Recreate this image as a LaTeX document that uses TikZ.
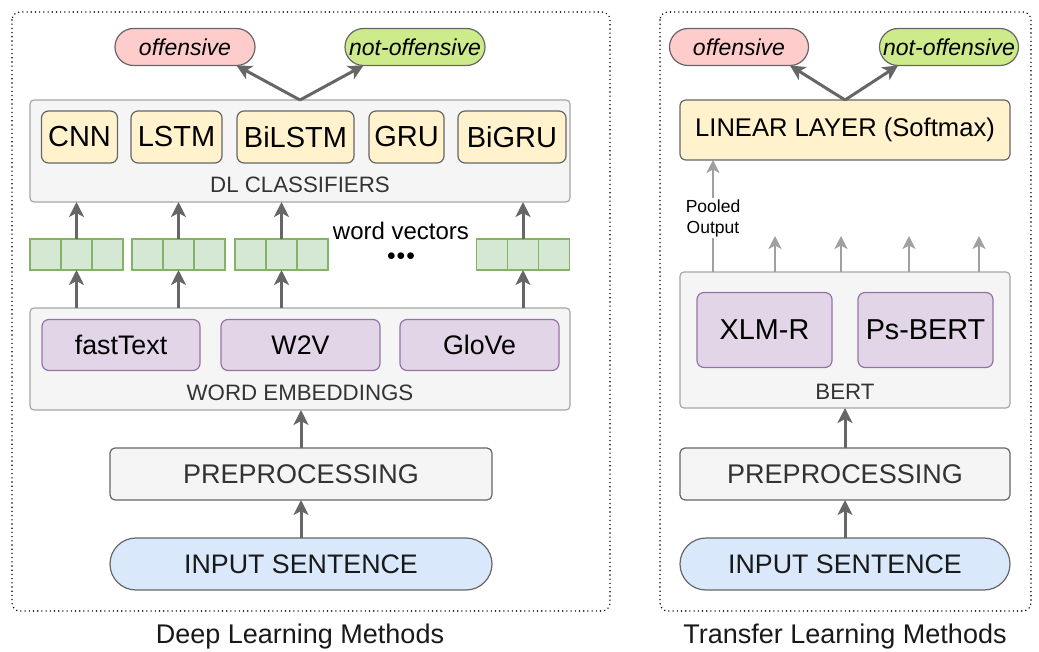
\documentclass[tikz,border=0pt]{standalone}
\usepackage{fontspec}
\setmainfont{Liberation Sans}
\usetikzlibrary{arrows.meta,shapes.misc}
\definecolor{grayfill}{HTML}{F5F5F5}
\definecolor{grayborder}{HTML}{A6A6A6}
\definecolor{darkline}{HTML}{666666}
\definecolor{lightarrow}{HTML}{A0A0A0}
\definecolor{txtgray}{HTML}{333333}
\definecolor{pinkfill}{HTML}{FFCCCC}
\definecolor{greenfill}{HTML}{CDEB8B}
\definecolor{yellowfill}{HTML}{FFF2CC}
\definecolor{purplefill}{HTML}{E1D5E7}
\definecolor{purpleline}{HTML}{9673A6}
\definecolor{vecfill}{HTML}{D5E8D4}
\definecolor{vecline}{HTML}{82B366}
\definecolor{bluefill}{HTML}{DAE8FC}
\tikzset{
  x=1pt, y=-1pt,
  every node/.style={inner sep=0pt, outer sep=0pt},
  outerbox/.style={draw=black, line width=1.6pt, dash pattern=on 0pt off 4.2pt, line cap=round, rounded corners=8pt},
  group/.style={draw=grayborder, fill=grayfill, line width=1.2pt, rounded corners=4pt},
  pill/.style={draw=darkline, line width=1.2pt, rounded rectangle, minimum width=140pt, minimum height=37pt, font=\fontsize{23}{26}\selectfont\itshape},
  clsbox/.style={draw=darkline, fill=yellowfill, line width=1.2pt, rounded corners=7pt, minimum height=52pt, font=\fontsize{29}{32}\selectfont},
  embbox/.style={draw=purpleline, fill=purplefill, line width=1.2pt, rounded corners=7pt, minimum height=51pt, font=\fontsize{26.8}{30}\selectfont},
  cell/.style={draw=vecline, fill=vecfill, line width=1.2pt, minimum width=31pt, minimum height=31pt},
  procbox/.style={draw=darkline, fill=grayfill, line width=1.2pt, rounded corners=5pt, minimum width=382pt, minimum height=52pt, font=\fontsize{27}{30}\selectfont, text=txtgray},
  inbox/.style={draw=darkline, fill=bluefill, line width=1.2pt, rounded rectangle, minimum width=382pt, minimum height=52pt, font=\fontsize{26.8}{30}\selectfont, text=black!90},
  grouplabel/.style={font=\fontsize{22.3}{26}\selectfont, text=txtgray},
  arr/.style={draw=darkline, line width=3pt, -{Stealth[length=15pt, width=15pt, inset=4pt]}},
  larr/.style={draw=lightarrow, line width=2.4pt, -{Stealth[length=13pt, width=13pt, inset=3.5pt]}},
  title/.style={font=\fontsize{27}{30}\selectfont, text=black!90}
}
\begin{document}
\begin{tikzpicture}
\useasboundingbox (0,0) rectangle (1039,652);
% outer dotted boxes
\draw[outerbox] (12,12) rectangle (610,611);
\draw[outerbox] (660,12) rectangle (1031,611);
\node[title] (t1) at (300,637) {Deep Learning Methods};
\node[title] (t2) at (845,637) {Transfer Learning Methods};

% ===== Left: Deep Learning =====
\node[pill, fill=pinkfill] (off1) at (185,47) {offensive};
\node[pill, fill=greenfill] (noff1) at (415,47) {not-offensive};

\node[group, minimum width=540pt, minimum height=102pt] (dl) at (300,151) {};
\node[grouplabel] (dllab) at (300,185) {DL CLASSIFIERS};
\node[clsbox, minimum width=76pt] (cnn) at (79.5,137) {CNN};
\node[clsbox, minimum width=91pt] (lstm) at (176.5,137) {LSTM};
\node[clsbox, minimum width=117pt] (bilstm) at (295.5,137) {BiLSTM};
\node[clsbox, minimum width=75pt] (gru) at (406.5,137) {GRU};
\node[clsbox, minimum width=108pt] (bigru) at (512,137) {BiGRU};

\coordinate (dltop) at (300,100);
\draw[arr] (dltop) -- (off1.south east);
\draw[arr] (dltop) -- (noff1.south west);

% word vectors
\foreach \g/\cx in {1/76.5, 2/178.5, 3/281.5, 4/523} {
  \node[cell] (v\g b) at (\cx,254.5) {};
  \node[cell, anchor=east] (v\g a) at (v\g b.west) {};
  \node[cell, anchor=west] (v\g c) at (v\g b.east) {};
}
\node[font=\fontsize{24}{26}\selectfont] (wv) at (401,231) {word vectors};
\node[font=\fontsize{16}{20}\selectfont] (dots) at (401,257) {$\bullet\!\bullet\!\bullet$};

\node[group, minimum width=540pt, minimum height=102pt] (emb) at (300,359) {};
\node[grouplabel] (emblab) at (300,393) {WORD EMBEDDINGS};
\node[embbox, minimum width=158pt] (ft) at (121,345) {fastText};
\node[embbox, minimum width=159pt] (w2v) at (300.5,345) {W2V};
\node[embbox, minimum width=159pt] (glove) at (479.5,345) {GloVe};

\foreach \g in {1,2,3,4} {
  \draw[arr] (v\g b.north) -- (v\g b.north |- dl.south);
  \draw[arr] (v\g b.north |- emb.north) -- (v\g b.south);
}

\node[procbox] (pre1) at (301,474) {PREPROCESSING};
\node[inbox] (in1) at (301,564) {INPUT SENTENCE};
\draw[arr] (pre1.north) -- (pre1.north |- emb.south);
\draw[arr] (in1.north) -- (pre1.south);

% ===== Right: Transfer Learning =====
\node[pill, fill=pinkfill, minimum width=139pt] (off2) at (739,47) {offensive};
\node[pill, fill=greenfill, minimum width=139pt] (noff2) at (949,47) {not-offensive};

\node[clsbox, minimum width=330pt, minimum height=60pt, rounded corners=6pt, font=\fontsize{25.6}{28}\selectfont] (lin) at (845,130) {LINEAR LAYER (Softmax)};
\coordinate (lintop) at (845,100);
\draw[arr] (lintop) -- (off2.south east);
\draw[arr] (lintop) -- (noff2.south west);

\node[group, minimum width=330pt, minimum height=136pt] (bert) at (845,340) {};
\node[grouplabel] (bertlab) at (845,392) {BERT};
\node[embbox, minimum width=135pt, minimum height=75pt, font=\fontsize{28.8}{32}\selectfont] (xlmr) at (764.5,330) {XLM-R};
\node[embbox, minimum width=135pt, minimum height=75pt, font=\fontsize{28.8}{32}\selectfont] (psbert) at (925.5,330) {Ps-BERT};

\coordinate (pool) at (713,272);
\draw[larr] (pool) -- (pool |- lin.south)
  node[pos=0.48, fill=white, inner sep=1.5pt, align=center, font=\fontsize{17.5}{21}\selectfont] (pooltxt) {Pooled\\Output};
\foreach \i/\xx in {1/775, 2/841, 3/909, 4/979} {
  \coordinate (bo\i) at (\xx,272);
  \draw[larr] (bo\i) -- ++(0,-36);
}

\node[procbox, minimum width=330pt] (pre2) at (845,474) {PREPROCESSING};
\node[inbox, minimum width=330pt] (in2) at (845,564) {INPUT SENTENCE};
\draw[arr] (pre2.north) -- (pre2.north |- bert.south);
\draw[arr] (in2.north) -- (pre2.south);
\end{tikzpicture}
\end{document}
